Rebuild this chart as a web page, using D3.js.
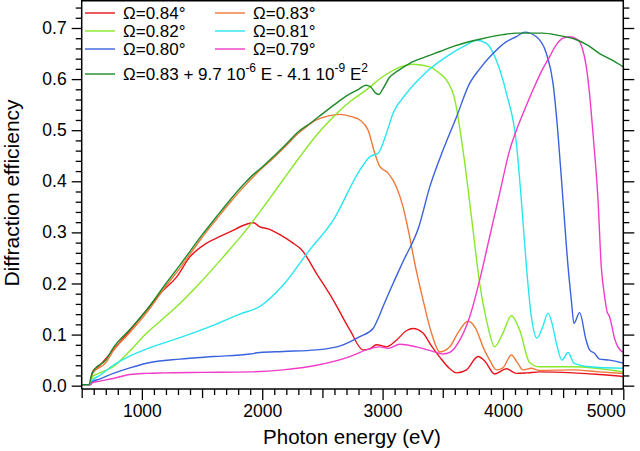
<!DOCTYPE html>
<meta charset="utf-8">
<script src="https://cdn.jsdelivr.net/npm/d3@7"></script>
<style>
  body { margin: 0; background: #fff; }
  text { font-family: "Liberation Sans", Arial, sans-serif; }
</style>
<div id="my_dataviz"></div>
<script>

// data: [photon energy (eV), efficiency]
var omega084 = [[500,0.002],[570,0.002],[590,0.027],[650,0.04],[762,0.07],[900,0.108],[1040,0.148],[1150,0.18],[1289,0.213],[1399,0.252],[1538,0.279],[1650,0.292],[1731,0.301],[1870,0.316],[1925,0.319],[1980,0.311],[2050,0.307],[2150,0.295],[2250,0.28],[2327,0.266],[2450,0.22],[2589,0.168],[2728,0.109],[2838,0.07],[2894,0.072],[2949,0.080],[3000,0.078],[3032,0.076],[3115,0.089],[3200,0.108],[3253,0.112],[3336,0.103],[3400,0.08],[3475,0.056],[3550,0.035],[3614,0.025],[3697,0.031],[3793,0.057],[3850,0.048],[3931,0.023],[4029,0.033],[4112,0.024],[4200,0.025],[4305,0.027],[4582,0.025],[4800,0.022],[5000,0.018]];

var omega083 = [[500,0.002],[570,0.002],[590,0.024],[700,0.045],[762,0.068],[900,0.104],[1040,0.143],[1200,0.195],[1316,0.23],[1500,0.29],[1621,0.326],[1731,0.358],[1850,0.39],[1960,0.417],[2100,0.447],[2200,0.47],[2300,0.494],[2368,0.507],[2450,0.52],[2550,0.528],[2645,0.531],[2750,0.526],[2811,0.520],[2880,0.500],[2935,0.455],[2977,0.429],[3046,0.416],[3115,0.389],[3170,0.350],[3226,0.29],[3267,0.24],[3336,0.168],[3406,0.103],[3475,0.066],[3558,0.076],[3630,0.105],[3710,0.126],[3780,0.109],[3834,0.076],[3890,0.050],[3945,0.031],[4000,0.035],[4070,0.060],[4120,0.045],[4167,0.031],[4236,0.034],[4300,0.03],[4582,0.031],[4800,0.027],[5000,0.024]];

var omega082 = [[500,0.002],[570,0.002],[590,0.018],[650,0.025],[762,0.037],[900,0.068],[1040,0.103],[1180,0.132],[1316,0.161],[1455,0.194],[1676,0.252],[1850,0.30],[1980,0.34],[2174,0.403],[2313,0.448],[2450,0.49],[2590,0.526],[2730,0.556],[2866,0.579],[3004,0.605],[3130,0.622],[3253,0.629],[3392,0.624],[3470,0.612],[3531,0.598],[3600,0.56],[3668,0.461],[3738,0.331],[3807,0.200],[3876,0.115],[3931,0.076],[4000,0.103],[4070,0.137],[4139,0.109],[4222,0.045],[4305,0.037],[4582,0.037],[5000,0.027]];

var omega081 = [[500,0.002],[570,0.002],[591,0.011],[650,0.02],[762,0.04],[900,0.058],[1040,0.072],[1316,0.094],[1593,0.118],[1814,0.14],[1980,0.155],[2174,0.197],[2382,0.262],[2590,0.324],[2811,0.422],[2894,0.448],[2963,0.455],[3032,0.494],[3087,0.533],[3198,0.572],[3364,0.614],[3531,0.644],[3697,0.667],[3780,0.676],[3863,0.670],[3945,0.637],[4029,0.572],[4112,0.474],[4153,0.363],[4195,0.233],[4236,0.135],[4283,0.093],[4330,0.115],[4374,0.142],[4410,0.12],[4444,0.083],[4490,0.05],[4541,0.065],[4590,0.044],[4720,0.037],[5000,0.034]];

var omega080 = [[500,0.002],[570,0.002],[591,0.008],[650,0.013],[762,0.024],[900,0.035],[1040,0.044],[1316,0.052],[1593,0.057],[1898,0.062],[1980,0.065],[2174,0.067],[2451,0.070],[2672,0.080],[2811,0.096],[2921,0.112],[2960,0.13],[3004,0.155],[3087,0.200],[3170,0.243],[3300,0.31],[3392,0.389],[3502,0.461],[3614,0.526],[3724,0.592],[3807,0.620],[3917,0.650],[4020,0.672],[4112,0.683],[4180,0.692],[4278,0.683],[4361,0.650],[4416,0.592],[4457,0.494],[4499,0.363],[4541,0.233],[4568,0.168],[4590,0.122],[4637,0.143],[4690,0.09],[4720,0.070],[4762,0.063],[4803,0.052],[4886,0.050],[5000,0.044]];

var omega079 = [[500,0.002],[570,0.002],[591,0.006],[650,0.009],[762,0.014],[901,0.022],[1040,0.024],[1178,0.025],[1500,0.026],[1898,0.027],[2174,0.031],[2451,0.040],[2728,0.057],[2866,0.070],[2977,0.076],[3046,0.073],[3143,0.081],[3281,0.076],[3419,0.067],[3502,0.062],[3558,0.065],[3641,0.089],[3724,0.135],[3807,0.207],[3890,0.292],[3973,0.377],[4056,0.461],[4112,0.50],[4180,0.54],[4250,0.579],[4320,0.615],[4388,0.644],[4440,0.666],[4499,0.680],[4554,0.683],[4623,0.677],[4660,0.66],[4693,0.624],[4720,0.57],[4748,0.494],[4790,0.363],[4817,0.233],[4845,0.174],[4865,0.145],[4886,0.135],[4900,0.122],[4928,0.092],[4955,0.076],[5000,0.065]];

var omegaFit = [[500,0.002],[560,0.002],[580,0.02],[600,0.03],[700,0.05],[762,0.074],[900,0.11],[1040,0.148],[1200,0.2],[1316,0.236],[1500,0.295],[1621,0.331],[1731,0.363],[1850,0.395],[1930,0.414],[1960,0.42],[2000,0.428],[2100,0.45],[2200,0.473],[2300,0.497],[2396,0.513],[2500,0.532],[2600,0.55],[2700,0.567],[2800,0.58],[2860,0.588],[2900,0.585],[2940,0.573],[2970,0.57],[3000,0.58],[3060,0.604],[3120,0.615],[3226,0.631],[3350,0.643],[3475,0.654],[3600,0.665],[3808,0.678],[4000,0.687],[4112,0.690],[4330,0.690],[4450,0.686],[4610,0.677],[4700,0.667],[4803,0.650],[4900,0.638],[5000,0.624]];

var seriesNames = ["Ω=0.84°", "Ω=0.83°", "Ω=0.82°", "Ω=0.81°", "Ω=0.80°", "Ω=0.79°", "fit"];
var seriesData = [omega084, omega083, omega082, omega081, omega080, omega079, omegaFit];
var seriesColors = ["#e8141c", "#f07838", "#88e82a", "#28e6f0", "#3a62de", "#f03cc8", "#1c8a2a"];

var xMajor = [1000, 2000, 3000, 4000, 5000];
var yMajor = [0, 0.1, 0.2, 0.3, 0.4, 0.5, 0.6, 0.7];

var W = 640, H = 451;
var pLeft = 81.7, pRight = 623.3, pTop = 0, pBottom = 389;

var svg = d3.select("#my_dataviz")
  .append("svg")
    .attr("width", W)
    .attr("height", H);

svg.append("rect").attr("width", W).attr("height", H).attr("fill", "#fff");

var x = d3.scaleLinear().domain([500, 5000]).range([pLeft, pRight]);
var y = d3.scaleLinear().domain([-0.0065, 0.7548]).range([pBottom, pTop]);

// minor / medium tick positions
var xMinor = d3.range(500, 5001, 100).filter(function(d) { return d % 500 != 0; });
var xMedium = d3.range(500, 5001, 1000);
var yMinor = d3.range(0, 76, 2).filter(function(d) { return d % 10 != 0; }).map(function(d) { return d / 100; });

function noLabels(a) { return a.tickFormat(function() { return ""; }); }

// curves
var line = d3.line()
  .x(function(d) { return x(d[0]); })
  .y(function(d) { return y(d[1]); })
  .curve(d3.curveMonotoneX);

svg.append("g").selectAll("path")
  .data(seriesData)
  .enter().append("path")
    .attr("fill", "none")
    .attr("stroke", function(d, i) { return seriesColors[i]; })
    .attr("stroke-width", 1.4)
    .attr("d", line);

// bottom axis
function bottomAxis(vals, size, labels) {
  var a = d3.axisBottom(x).tickValues(vals).tickSize(size).tickSizeOuter(0);
  if (!labels) noLabels(a); else a.tickFormat(d3.format("d")).tickPadding(5);
  return svg.append("g").attr("transform", "translate(0," + pBottom + ")").call(a);
}
bottomAxis(xMinor, 6, false);
bottomAxis(xMedium, 9, false);
var gx = bottomAxis(xMajor, 11, true);

function leftAxis(vals, size, labels) {
  var a = d3.axisLeft(y).tickValues(vals).tickSize(size).tickSizeOuter(0);
  if (!labels) noLabels(a); else a.tickFormat(d3.format(".1f")).tickPadding(5);
  return svg.append("g").attr("transform", "translate(" + pLeft + ",0)").call(a);
}
leftAxis(yMinor, 6, false);
var gy = leftAxis(yMajor, 10, true);

function rightAxis(vals, size) {
  var a = noLabels(d3.axisRight(y).tickValues(vals).tickSize(size).tickSizeOuter(0));
  return svg.append("g").attr("transform", "translate(" + pRight + ",0)").call(a);
}
rightAxis(yMinor, 6);
rightAxis(yMajor, 11);

svg.selectAll(".domain").remove();
svg.selectAll(".tick line").attr("stroke", "#000").attr("stroke-width", 1.3);

// frame
function frameLine(x1, y1, x2, y2) {
  svg.append("line").attr("x1", x1).attr("y1", y1).attr("x2", x2).attr("y2", y2)
    .attr("stroke", "#000").attr("stroke-width", 1.5);
}
frameLine(pLeft, 0.75, pRight, 0.75);
frameLine(pLeft, 0, pLeft, pBottom);
frameLine(pRight, 0, pRight, pBottom);
frameLine(pLeft, pBottom, pRight, pBottom);

gx.selectAll("text").attr("font-size", 17.5).attr("fill", "#000").attr("font-family", "Liberation Sans, Arial, sans-serif");
gy.selectAll("text").attr("font-size", 17.5).attr("fill", "#000").attr("font-family", "Liberation Sans, Arial, sans-serif");
// last label is pulled inside the window
gx.selectAll(".tick").filter(function(d) { return d == 5000; }).select("text")
  .attr("text-anchor", "end").attr("x", 2);

// axis titles
svg.append("text")
  .attr("x", 352).attr("y", 444)
  .attr("text-anchor", "middle").attr("font-size", 20.5)
  .text("Photon energy (eV)");

svg.append("text")
  .attr("transform", "translate(19," + 193 + ") rotate(-90)")
  .attr("text-anchor", "middle").attr("font-size", 21)
  .text("Diffraction efficiency");

// legend
var legPos = [[85, 13], [215, 13], [85, 31], [215, 31], [85, 49], [215, 49]];
var legend = svg.append("g");
for (var i = 0; i < 6; i++) {
  legend.append("line")
    .attr("x1", legPos[i][0]).attr("x2", legPos[i][0] + 30)
    .attr("y1", legPos[i][1]).attr("y2", legPos[i][1])
    .attr("stroke", seriesColors[i]).attr("stroke-width", 1.4);
  legend.append("text")
    .attr("x", legPos[i][0] + 38).attr("y", legPos[i][1] + 5.5)
    .attr("font-size", 17)
    .text(seriesNames[i]);
}
legend.append("line")
  .attr("x1", 85).attr("x2", 115).attr("y1", 74).attr("y2", 74)
  .attr("stroke", seriesColors[6]).attr("stroke-width", 1.4);
var fitText = legend.append("text").attr("x", 123).attr("y", 80).attr("font-size", 17);
fitText.append("tspan").text("Ω=0.83 + 9.7 10");
fitText.append("tspan").attr("dy", -8).attr("font-size", 12).text("-6");
fitText.append("tspan").attr("dy", 8).text(" E - 4.1 10");
fitText.append("tspan").attr("dy", -8).attr("font-size", 12).text("-9");
fitText.append("tspan").attr("dy", 8).text(" E");
fitText.append("tspan").attr("dy", -8).attr("font-size", 12).text("2");

</script>
